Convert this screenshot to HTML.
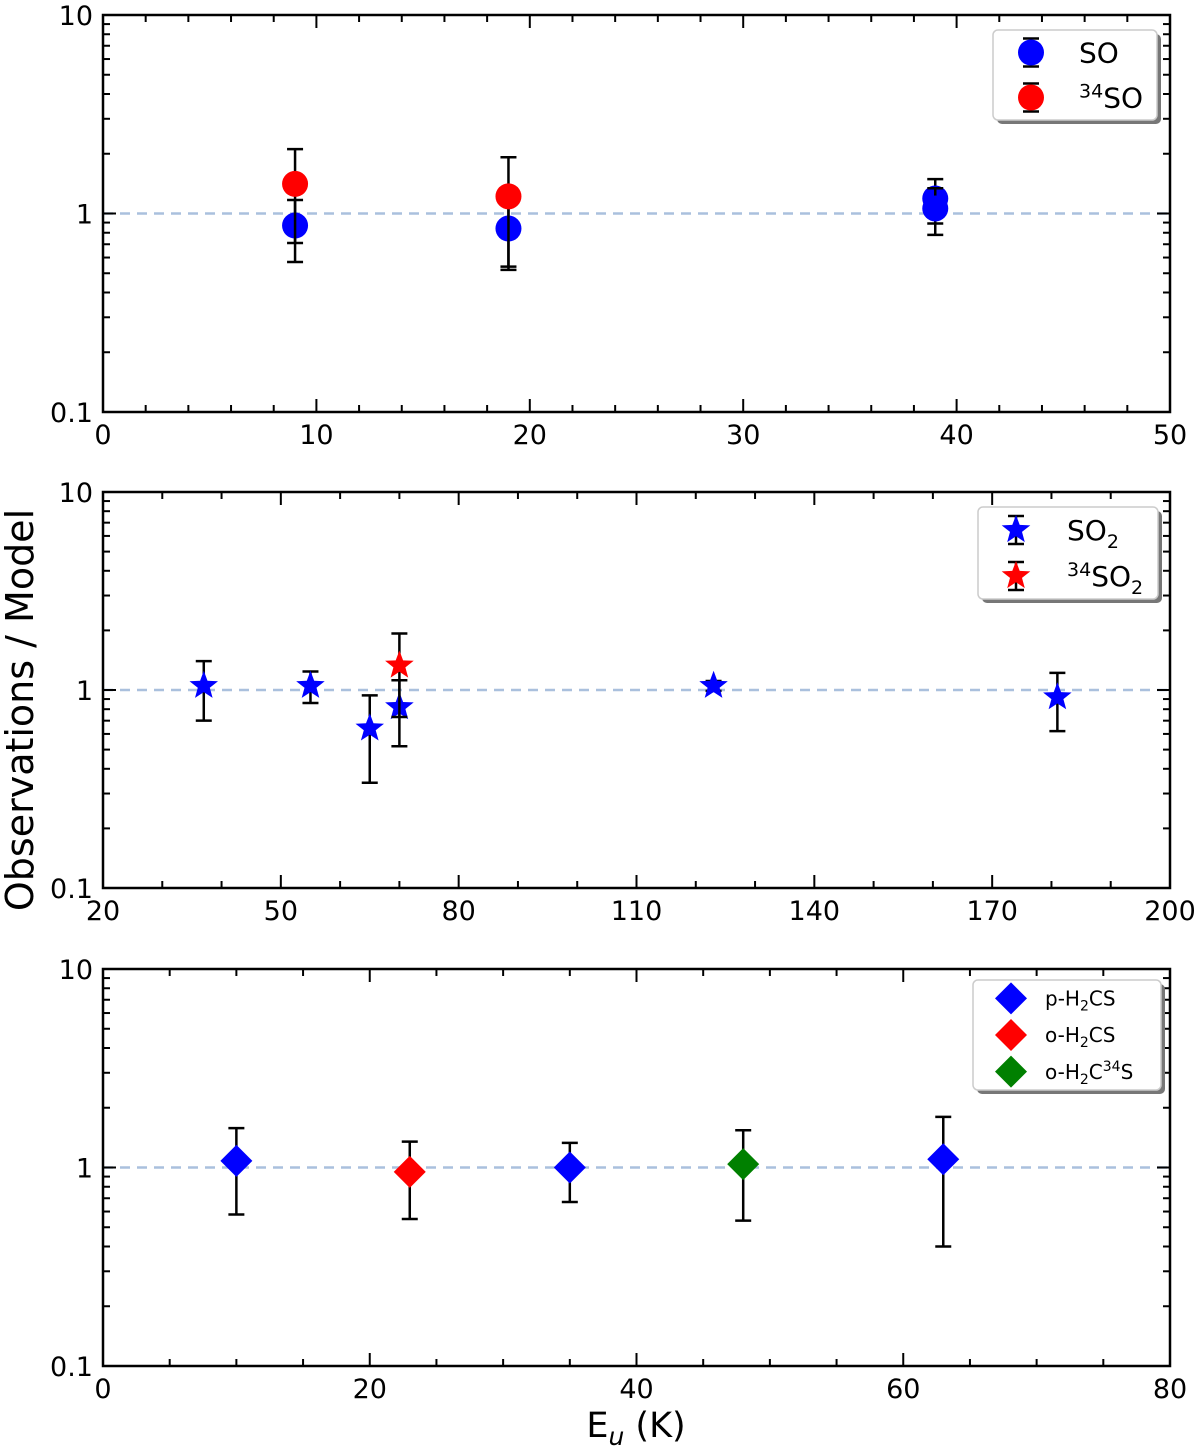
<!DOCTYPE html>
<html><head><meta charset="utf-8"><style>
body{margin:0;background:#fff;}
svg{font-family:"DejaVu Sans","Liberation Sans",sans-serif;}
</style></head><body>
<svg id="fig" width="1200" height="1448" xmlns="http://www.w3.org/2000/svg">
<text x="33" y="710" font-size="38" text-anchor="middle" transform="rotate(-90 33 710)">Observations / Model</text>
<text x="636" y="1437" font-size="35" text-anchor="middle">E<tspan font-style="italic" font-size="25" dy="8">u</tspan><tspan dy="-8"> (K)</tspan></text>
</svg>
<script>
// Panel 1: SO
const p1SOx=[9,19,39,39];
const p1SOy=[0.87,0.84,1.19,1.06];
const p1SOe=[0.3,0.3,0.3,0.28];
const p134SOx=[9,19];
const p134SOy=[1.41,1.22];
const p134SOe=[0.7,0.7];
const p1Ticks=[0,10,20,30,40,50];
// Panel 2: SO2
const p2SO2x=[37,55,65,70,123,181];
const p2SO2y=[1.05,1.05,0.64,0.82,1.05,0.92];
const p2SO2e=[0.35,0.19,0.3,0.3,0.06,0.3];
const p234SO2x=[70];
const p234SO2y=[1.33];
const p234SO2e=[0.6];
const p2Ticks=[20,50,80,110,140,170,200];
// Panel 3: H2CS
const p3Px=[10,35,63];
const p3Py=[1.08,1.0,1.1];
const p3Pe=[0.5,0.33,0.7];
const p3Ox=[23];
const p3Oy=[0.95];
const p3Oe=[0.4];
const p3Gx=[48];
const p3Gy=[1.04];
const p3Ge=[0.5];
const p3Ticks=[0,20,40,60,80];
const yTicks=[0.1,1,10];
const yTickLabels=['0.1','1','10'];

const NS='http://www.w3.org/2000/svg';
const svg=document.getElementById('fig');
function mk(tag,attrs,parent){const e=document.createElementNS(NS,tag);for(const k in attrs)e.setAttribute(k,attrs[k]);(parent||svg).appendChild(e);return e;}

const L=103,R=1170;
function panel(name,top,bot,xmin,xmax,ticks,minorStep){
  const g=mk('g',{});
  
  
  const xs=v=>L+(v-xmin)/(xmax-xmin)*(R-L);
  const ys=v=>bot-(Math.log10(v)+1)/2*(bot-top);
  const dl=mk('line',{x1:L,x2:R,y1:ys(1),y2:ys(1),stroke:'#aac0dd','stroke-width':2.5,'stroke-dasharray':'10,7'},g);
  
  
  for(let v=xmin;v<=xmax+1e-9;v+=minorStep){
    const maj=ticks.some(t=>Math.abs(t-v)<1e-9);
    const len=maj?13:7;
    mk('line',{x1:xs(v),x2:xs(v),y1:bot,y2:bot-len,stroke:'#000','stroke-width':2},g);
    mk('line',{x1:xs(v),x2:xs(v),y1:top,y2:top+len,stroke:'#000','stroke-width':2},g);
  }
  ticks.forEach(t=>{
    const tl=mk('text',{x:xs(t),y:bot+32,'font-size':27,'text-anchor':'middle'},g);
    tl.textContent=t;
    
    
  });
  for(let d=0.1;d<10;d*=10){
    for(let k=1;k<=10;k++){
      const v=d*k;const maj=(k===1||k===10);const len=maj?13:7;
      mk('line',{x1:L,x2:L+len,y1:ys(v),y2:ys(v),stroke:'#000','stroke-width':2},g);
      mk('line',{x1:R,x2:R-len,y1:ys(v),y2:ys(v),stroke:'#000','stroke-width':2},g);
    }
  }
  yTicks.forEach((t,i)=>{
    const tl=mk('text',{x:L-10,y:ys(t)+10,'font-size':27,'text-anchor':'end'},g);
    tl.textContent=yTickLabels[i];
    
    
  });
  const fr=mk('rect',{x:L,y:top,width:R-L,height:bot-top,fill:'none',stroke:'#000','stroke-width':2.5},g);
  
  
  return {g,xs,ys};
}
function marker(g,shape,cx,cy,color,s){
  let e;
  if(shape==='circle') e=mk('circle',{cx,cy,r:s,fill:color},g);
  else if(shape==='diamond') e=mk('polygon',{points:`${cx},${cy-s} ${cx+s},${cy} ${cx},${cy+s} ${cx-s},${cy}`,fill:color},g);
  else {let pts=[];for(let i=0;i<10;i++){const r=i%2?s*0.42:s;const a=-Math.PI/2+i*Math.PI/5;pts.push((cx+r*Math.cos(a)).toFixed(1)+','+(cy+r*Math.sin(a)).toFixed(1));}
    e=mk('polygon',{points:pts.join(' '),fill:color},g);}
  return e;
}
function series(p,name,xs,ys,es,shape,color,s){
  xs.forEach((x,i)=>{
    const px=p.xs(x),py=p.ys(ys[i]),hi=p.ys(ys[i]+es[i]),lo=p.ys(Math.max(ys[i]-es[i],0.11));
    const eb=mk('g',{stroke:'#000','stroke-width':2.5},p.g);
    
    
    mk('line',{x1:px,x2:px,y1:hi,y2:lo},eb);
    mk('line',{x1:px-8,x2:px+8,y1:hi,y2:hi},eb);
    mk('line',{x1:px-8,x2:px+8,y1:lo,y2:lo},eb);
    const m=marker(p.g,shape,px,py,color,s);
    
    
  });
}
function legend(name,x,y,w,h,entries,fs){
  const g=mk('g',{});
  
  
  mk('rect',{x:x+4,y:y+4,width:w,height:h,rx:5,fill:'#777'},g);
  mk('rect',{x,y,width:w,height:h,rx:5,fill:'#fff',stroke:'#ccc','stroke-width':1.5},g);
  const step=h/entries.length;
  entries.forEach((en,i)=>{
    const cy=y+step*(i+0.5);const cx=x+38;
    if(en.err){const eb=mk('g',{stroke:'#000','stroke-width':2.5},g);
      mk('line',{x1:cx,x2:cx,y1:cy-14,y2:cy+14},eb);mk('line',{x1:cx-8,x2:cx+8,y1:cy-14,y2:cy-14},eb);mk('line',{x1:cx-8,x2:cx+8,y1:cy+14,y2:cy+14},eb);}
    const m=marker(g,en.shape,cx,cy,en.color,en.s);
    
    
    const t=mk('text',{x:x+en.tx,y:cy+fs*0.36,'font-size':fs},g);
    t.innerHTML=en.label;
    
    
  });
}
const p1=panel('panel-so',15,412,0,50,p1Ticks,2);
series(p1,'so',p1SOx,p1SOy,p1SOe,'circle','#0000ff',13);
series(p1,'so34',p134SOx,p134SOy,p134SOe,'circle','#ff0000',13);
legend('legend-so',993,30,164,90,[
 {shape:'circle',color:'#0000ff',s:13,err:true,tx:86,label:'SO'},
 {shape:'circle',color:'#ff0000',s:13,err:true,tx:86,label:'<tspan font-size="19" dy="-10">34</tspan><tspan dy="10">SO</tspan>'}],28);
const p2=panel('panel-so2',492,888,20,200,p2Ticks,10);
series(p2,'so2',p2SO2x,p2SO2y,p2SO2e,'star','#0000ff',15);
series(p2,'so2-34',p234SO2x,p234SO2y,p234SO2e,'star','#ff0000',15);
legend('legend-so2',978,507,180,92,[
 {shape:'star',color:'#0000ff',s:15,err:true,tx:89,label:'SO<tspan font-size="19" dy="8">2</tspan>'},
 {shape:'star',color:'#ff0000',s:15,err:true,tx:89,label:'<tspan font-size="19" dy="-10">34</tspan><tspan dy="10">SO</tspan><tspan font-size="19" dy="8">2</tspan>'}],28);
const p3=panel('panel-h2cs',969,1366,0,80,p3Ticks,5);
series(p3,'p-h2cs',p3Px,p3Py,p3Pe,'diamond','#0000ff',16);
series(p3,'o-h2cs',p3Ox,p3Oy,p3Oe,'diamond','#ff0000',16);
series(p3,'o-h2c34s',p3Gx,p3Gy,p3Ge,'diamond','#008000',16);
legend('legend-h2cs',973,980,188,110,[
 {shape:'diamond',color:'#0000ff',s:16,err:false,tx:72,label:'p-H<tspan font-size="14" dy="5">2</tspan><tspan dy="-5">CS</tspan>'},
 {shape:'diamond',color:'#ff0000',s:16,err:false,tx:72,label:'o-H<tspan font-size="14" dy="5">2</tspan><tspan dy="-5">CS</tspan>'},
 {shape:'diamond',color:'#008000',s:16,err:false,tx:72,label:'o-H<tspan font-size="14" dy="5">2</tspan><tspan dy="-5">C</tspan><tspan font-size="14" dy="-8">34</tspan><tspan dy="8">S</tspan>'}],20);
</script>
</body></html>
